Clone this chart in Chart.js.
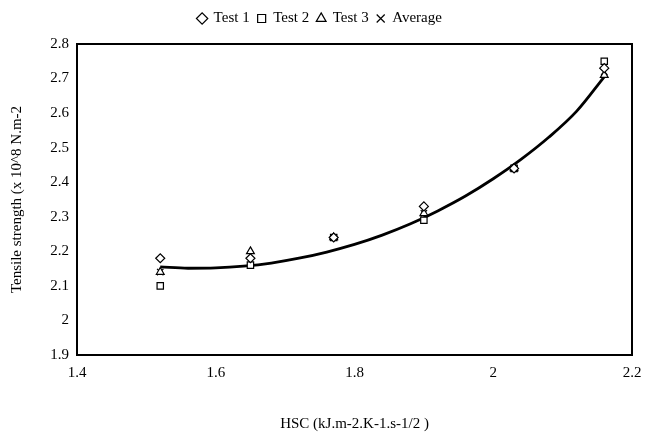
<!DOCTYPE html>
<html>
<head>
<meta charset="utf-8">
<script src="https://cdn.jsdelivr.net/npm/chart.js@4.4.1/dist/chart.umd.min.js"></script>
<style>
  html, body { margin: 0; padding: 0; background: #fff; }
  #wrap { width: 646px; height: 437px; }
</style>
</head>
<body>
<div id="wrap"><canvas id="c" width="646" height="437"></canvas></div>
<script>
/* ── Data ────────────────────────────────────────────────── */
const hsc     = [1.52, 1.65, 1.77, 1.90, 2.03, 2.16];
const test1   = [2.18, 2.18, 2.24, 2.33, 2.44, 2.73];
const test2   = [2.10, 2.16, 2.24, 2.29, 2.44, 2.75];
const test3   = [2.14, 2.20, 2.24, 2.31, 2.44, 2.71];
const average = [2.14, 2.17, 2.24, 2.31, 2.44, 2.72];

/* trend curve */
const trendX = [1.52, 1.56, 1.60, 1.64, 1.68, 1.72, 1.76, 1.80, 1.84, 1.88,
                1.92, 1.96, 2.00, 2.04, 2.08, 2.12, 2.16];
const trendY = [2.155, 2.151, 2.152, 2.157, 2.166, 2.180, 2.198, 2.220, 2.247, 2.279,
                2.317, 2.360, 2.410, 2.466, 2.530, 2.605, 2.705];

const xTicks = [1.4, 1.6, 1.8, 2.0, 2.2];
const yTicks = [1.9, 2.0, 2.1, 2.2, 2.3, 2.4, 2.5, 2.6, 2.7, 2.8];

const SERIF = "'Liberation Serif', 'Times New Roman', serif";
Chart.defaults.font.family = SERIF;
Chart.defaults.color = '#000';

const pts = ys => hsc.map((x, i) => ({ x, y: ys[i] }));

function _series(label, data, style) {
  return {
    type: 'scatter', label, data: pts(data),
    pointStyle: style,
    pointRadius: 4.5, pointHoverRadius: 4.5,
    borderColor: '#000', backgroundColor: '#fff', borderWidth: 1.2,
  };
}

/* black frame round the plot area */
const frame = {
  id: 'frame',
  afterDatasetsDraw(chart) {
    const a = chart.chartArea, ctx = chart.ctx;
    ctx.save();
    ctx.strokeStyle = '#000';
    ctx.lineWidth = 2;
    ctx.strokeRect(a.left, a.top, a.right - a.left, a.bottom - a.top);
    ctx.restore();
  },
};

/* fixed legend height so the plot sits where the reference has it */
const legendBox = {
  id: 'legendBox',
  beforeInit(chart) {
    const fit = chart.legend.fit;
    chart.legend.fit = function () { fit.bind(chart.legend)(); this.height = 41; };
  },
};

new Chart(document.getElementById('c'), {
  type: 'scatter',
  data: {
    datasets: [
      _series('Test 1', test1, 'rectRot'),
      _series('Test 2', test2, 'rect'),
      _series('Test 3', test3, 'triangle'),
      _series('Average', average, 'crossRot'),
      {
        type: 'line', label: 'trend',
        data: trendX.map((x, i) => ({ x, y: trendY[i] })),
        borderColor: '#000', borderWidth: 2.8, pointRadius: 0,
        cubicInterpolationMode: 'monotone', fill: false,
      },
    ],
  },
  plugins: [frame, legendBox],
  options: {
    responsive: false,
    animation: false,
    layout: { padding: { left: 8, right: 14, top: 3, bottom: 0 } },
    plugins: {
      legend: {
        position: 'top',
        labels: {
          usePointStyle: true, boxWidth: 8, boxHeight: 8, padding: 8,
          color: '#000', font: { size: 15, family: SERIF },
          filter: item => item.text !== 'trend',
        },
      },
      tooltip: { enabled: false },
    },
    scales: {
      x: {
        type: 'linear', min: 1.4, max: 2.2,
        afterBuildTicks: s => { s.ticks = xTicks.map(v => ({ value: v })); },
        afterFit: s => { s.height = 82; },
        grid: { display: false, drawOnChartArea: false, drawTicks: true, tickLength: 6, color: '#000' },
        border: { display: true, color: '#000', width: 2 },
        ticks: { color: '#000', font: { size: 15, family: SERIF }, padding: 3,
                 callback: v => String(Math.round(v * 10) / 10) },
        title: { display: true, text: 'HSC (kJ.m-2.K-1.s-1/2 )', color: '#000',
                 font: { size: 15, family: SERIF }, padding: { top: 20 } },
      },
      y: {
        type: 'linear', min: 1.9, max: 2.8,
        afterBuildTicks: s => { s.ticks = yTicks.map(v => ({ value: v })); },
        afterFit: s => { s.width = 69; },
        grid: { display: false, drawOnChartArea: false, drawTicks: true, tickLength: 5, color: '#000' },
        border: { display: true, color: '#000', width: 2 },
        ticks: { color: '#000', font: { size: 15, family: SERIF }, padding: 3,
                 callback: v => String(Math.round(v * 10) / 10) },
        title: { display: true, text: 'Tensile strength (x 10^8 N.m-2', color: '#000',
                 font: { size: 15, family: SERIF }, padding: 0 },
      },
    },
  },
});
</script>
</body>
</html>
